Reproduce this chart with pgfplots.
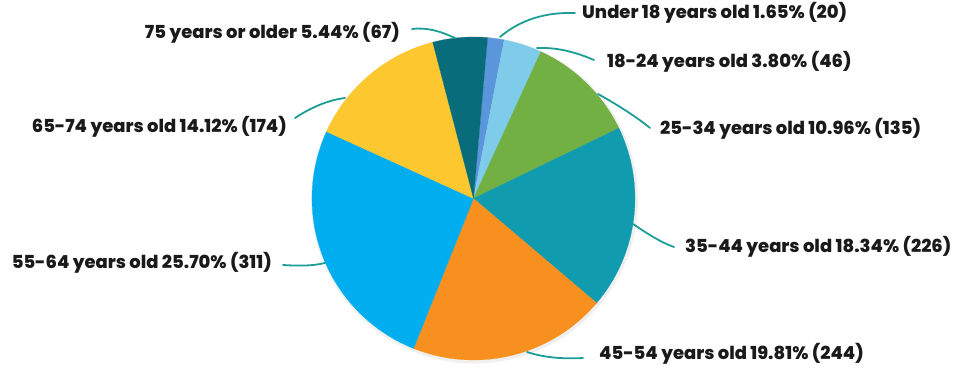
\documentclass[border=0pt]{standalone}
\usepackage{pgfplots}
\pgfplotsset{compat=1.18}
\usepgfplotslibrary{polar}
\usepackage{fontspec}
\setmainfont{Poppins}[BoldFont={Poppins ExtraBold}]
\definecolor{cA}{HTML}{5B95DC}
\definecolor{cB}{HTML}{7FCBEA}
\definecolor{cC}{HTML}{72B043}
\definecolor{cD}{HTML}{109CAE}
\definecolor{cE}{HTML}{F7901E}
\definecolor{cF}{HTML}{00AEEF}
\definecolor{cG}{HTML}{FDC82F}
\definecolor{cH}{HTML}{086C7B}
\definecolor{lead}{HTML}{1A9E96}
\definecolor{txt}{HTML}{1A1A1A}
% shares (%): 1.65, 3.80, 10.96, 18.34, 19.81, 25.70, 14.12, 5.44 ; start 85 deg, clockwise
\begin{document}
\begin{tikzpicture}[x=1bp,y=1bp]
\path[use as bounding box] (0,0) rectangle (963,370);
\fill[black!6] (474.5,170) circle (163.5);
\begin{polaraxis}[at={(473.5bp,171.5bp)}, anchor=origin, hide axis, scale only axis,
  width=323bp, height=323bp, ymin=0, ymax=1, clip=false]
\addplot[fill=cA, draw=cA, line width=0.2pt, domain=79.049:85, samples=8] {1} -- (axis cs:0,0) -- cycle;
\addplot[fill=cB, draw=cB, line width=0.2pt, domain=65.344:79.049, samples=12] {1} -- (axis cs:0,0) -- cycle;
\addplot[fill=cC, draw=cC, line width=0.2pt, domain=25.817:65.344, samples=30] {1} -- (axis cs:0,0) -- cycle;
\addplot[fill=cD, draw=cD, line width=0.2pt, domain=-40.326:25.817, samples=50] {1} -- (axis cs:0,0) -- cycle;
\addplot[fill=cE, draw=cE, line width=0.2pt, domain=-111.771:-40.326, samples=50] {1} -- (axis cs:0,0) -- cycle;
\addplot[fill=cF, draw=cF, line width=0.2pt, domain=-204.458:-111.771, samples=60] {1} -- (axis cs:0,0) -- cycle;
\addplot[fill=cG, draw=cG, line width=0.2pt, domain=-255.382:-204.458, samples=36] {1} -- (axis cs:0,0) -- cycle;
\addplot[fill=cH, draw=cH, line width=0.2pt, domain=-275:-255.382, samples=16] {1} -- (axis cs:0,0) -- cycle;
\end{polaraxis}
\begin{scope}[lead, line width=1.8bp, line cap=round]
\draw (500,333) .. controls (520,350) and (545,358) .. (575,357);
\draw (537,322) .. controls (560,323) and (580,316) .. (594,310);
\draw (598,276) .. controls (618,265) and (638,252) .. (650,242);
\draw (633,146) .. controls (648,136) and (660,128) .. (674,123);
\draw (527,18) .. controls (545,12) and (565,11) .. (583,12);
\draw (283,105) .. controls (300,104) and (312,104) .. (325,107);
\draw (295,252) .. controls (310,262) and (328,270) .. (345,272);
\draw (412,341) .. controls (428,343) and (442,338) .. (455,332);
\end{scope}
\begin{scope}[every node/.style={font=\bfseries\fontsize{18}{21}\selectfont, text=txt, inner sep=0pt}]
\node[anchor=mid west] at (582,354) {Under 18 years old 1.65\% (20)};
\node[anchor=mid west] at (607,305) {18-24 years old 3.80\% (46)};
\node[anchor=mid west] at (660,238) {25-34 years old 10.96\% (135)};
\node[anchor=mid west] at (685,120) {35-44 years old 18.34\% (226)};
\node[anchor=mid west] at (599,13) {45-54 years old 19.81\% (244)};
\node[anchor=mid east] at (272,104) {55-64 years old 25.70\% (311)};
\node[anchor=mid east] at (287,240) {65-74 years old 14.12\% (174)};
\node[anchor=mid east] at (400,334) {75 years or older 5.44\% (67)};
\end{scope}
\end{tikzpicture}
\end{document}
